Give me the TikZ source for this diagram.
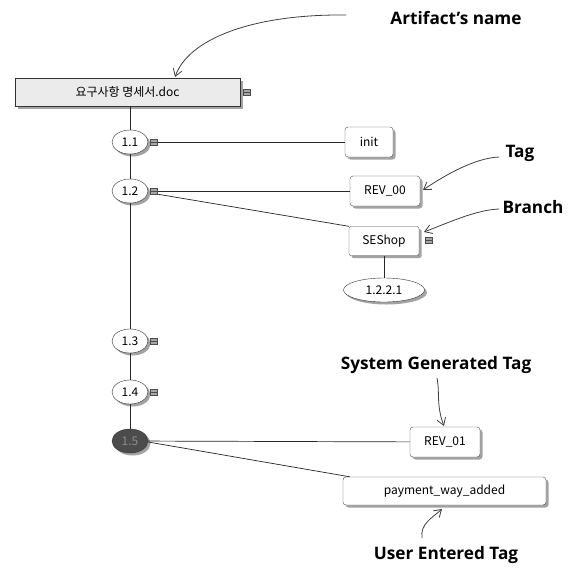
\documentclass[tikz,border=0pt]{standalone}
\usepackage{fontspec}
\setmainfont{Noto Sans}
\newfontfamily\kr{Noto Sans CJK KR}
\newfontfamily\annfont{Open Sans}
\usetikzlibrary{shadows,arrows.meta,shapes.geometric}
\begin{document}
\begin{tikzpicture}[x=1pt,y=-1pt,
  sh/.style={drop shadow={shadow xshift=2.5pt,shadow yshift=-2.5pt,fill=black!45,opacity=0.8}},
  tagbox/.style={draw=black!70,fill=white,rounded corners=3pt,sh,inner sep=0pt,minimum height=30pt,font=\kr\fontsize{12}{14}\selectfont},
  ver/.style={ellipse,draw=black!80,fill=white,sh,inner sep=0pt,minimum width=36pt,minimum height=24pt,font=\kr\fontsize{12}{14}\selectfont},
  mk/.style={rectangle,draw=black!70,fill=black!35,inner sep=0pt,minimum width=7pt,minimum height=6pt,
    path picture={\draw[black!70,line width=0.4pt] (path picture bounding box.west) -- (path picture bounding box.east);}},
  ln/.style={draw=black!85,line width=0.7pt},
  arr/.style={draw=black!75,line width=0.8pt,-{Straight Barb[length=7pt,width=9pt]}},
  ann/.style={font=\annfont\bfseries\fontsize{17.2}{20}\selectfont}]
\useasboundingbox[fill=white] (0,0) rectangle (568,570);

% artifact box
\node[draw=black!80,fill=black!8,sh,minimum width=225pt,minimum height=28pt,inner sep=0pt,font=\kr\fontsize{12}{14}\selectfont] (doc) at (127.5,92) {요구사항 명세서.doc};
\node[mk] (mdoc) at (247,92) {};

% versions
\node[ver] (v11) at (130,142) {1.1};
\node[ver] (v12) at (130,191) {1.2};
\node[ver] (v13) at (130,341) {1.3};
\node[ver] (v14) at (130,392) {1.4};
\node[ver,fill=black!70,text=black!45] (v15) at (130,441) {1.5};
\node[mk] (m11) at (154,142) {};
\node[mk] (m12) at (154,191) {};
\node[mk] (m13) at (154,341) {};
\node[mk] (m14) at (154,392) {};

% tags
\node[tagbox,minimum width=48pt] (init) at (369,142) {init};
\node[tagbox,minimum width=70pt] (rev00) at (385,191) {REV\_00};
\node[tagbox,minimum width=70pt,minimum height=29pt,rounded corners=2pt] (seshop) at (384,241) {SEShop};
\node[mk] (mses) at (429,240) {};
\node[ver,minimum width=81pt] (v1221) at (384,290) {1.2.2.1};
\node[tagbox,minimum width=70pt] (rev01) at (445,442) {REV\_01};
\node[tagbox,minimum width=203pt,minimum height=28pt] (pay) at (444.5,491) {payment\_way\_added};

% tree lines
\draw[ln] (doc.south -| v11) -- (v11);
\draw[ln] (v11) -- (v12);
\draw[ln] (v12) -- (v13);
\draw[ln] (v13) -- (v14);
\draw[ln] (v14) -- (v15);
\draw[ln] (m11) -- (init);
\draw[ln] (m12) -- (rev00);
\draw[ln] (m12.south east) -- (seshop.north west);
\draw[ln] (seshop) -- (v1221);
\draw[ln] (v15) -- (rev01);
\draw[ln] (v15.east) ++(0,1) coordinate (p15) (p15) -- ([xshift=7pt]pay.north west);

% annotations
\node[ann] (aart) at (456,18) {Artifact’s name};
\node[ann] (atag) at (520,153) {Tag};
\node[ann] (abr) at (533,207) {Branch};
\node[ann] (asys) at (436,365) {System Generated Tag};
\node[ann] (ausr) at (446,555) {User Entered Tag};

\coordinate (tArt) at (175,77);
\coordinate (tTag) at (423,190);
\coordinate (tBr) at (424,232);
\coordinate (tSys) at (444,426);
\coordinate (tUsr) at (442,509);
\coordinate (sArt) at (346,15);
\coordinate (sTag) at (499,157);
\coordinate (sBr) at (499,209);
\coordinate (sSys) at (437,378);
\coordinate (sUsr) at (422,538);

\draw[arr] (sArt) .. controls (250,14) and (188,40) .. (tArt);
\draw[arr] (sTag) .. controls (475,158) and (445,175) .. (tTag);
\draw[arr] (sBr) .. controls (476,210) and (450,222) .. (tBr);
\draw[arr] (sSys) .. controls (440,392) and (436,405) .. (tSys);
\draw[arr] (sUsr) .. controls (420,524) and (432,518) .. (tUsr);
\end{tikzpicture}
\end{document}
